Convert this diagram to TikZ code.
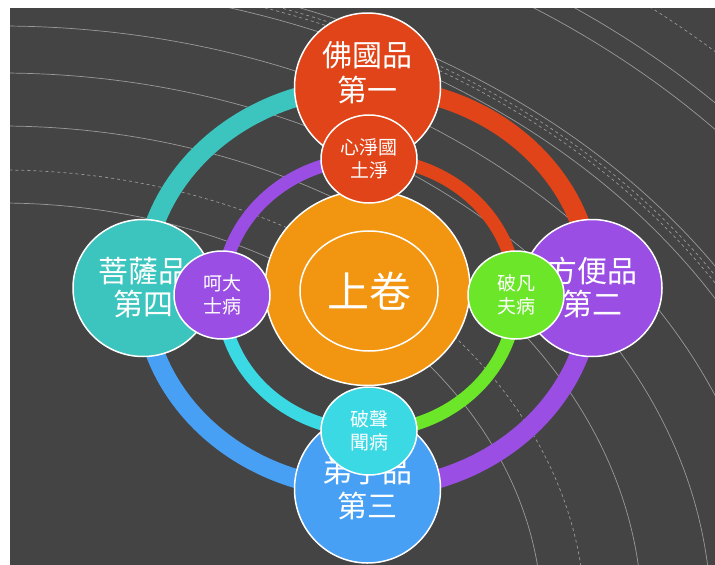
\documentclass[tikz,border=0pt]{standalone}
\usepackage{fontspec}
\newfontfamily\cjk{Noto Sans CJK TC}
\usetikzlibrary{shapes.geometric}
\definecolor{bgc}{HTML}{444444}
\definecolor{linec}{HTML}{999999}
\definecolor{cred}{HTML}{E04418}
\definecolor{corange}{HTML}{F29611}
\definecolor{cteal}{HTML}{3CC5BE}
\definecolor{cpurple}{HTML}{9B4EE3}
\definecolor{cblue}{HTML}{47A0F4}
\definecolor{cgreen}{HTML}{6BE628}
\definecolor{ccyan}{HTML}{3BD9E4}
\begin{document}
\begin{tikzpicture}[x=1pt,y=1pt,
  every node/.style={draw=white,line width=1.5pt,shape=ellipse,inner sep=0pt,text=white,align=center},
  big/.style={minimum width=146pt,minimum height=148pt,font=\cjk\fontsize{30}{35}\selectfont},
  side/.style={minimum width=140pt,minimum height=137pt,font=\cjk\fontsize{30}{33}\selectfont},
  small/.style={minimum width=96pt,minimum height=88pt,font=\cjk\fontsize{19}{23}\selectfont},
  ring/.style={line width=19pt},
  iring/.style={line width=13pt},
  bgline/.style={draw=linec,line width=0.7pt}]
  \useasboundingbox (0,0) rectangle (715,-565);
  \fill[white] (0,0) rectangle (715,-565);
  \fill[bgc] (10,-8) rectangle (715,-565);
  \begin{scope}
    \clip (10,-8) rectangle (715,-565);
    \foreach \r in {417,494,547,594,637,654,737,755}
      \draw[bgline] (0,-620) ellipse [x radius=1.3*\r, y radius=\r];
    \foreach \r in {450,645,649,791}
      \draw[bgline,dash pattern=on 3pt off 3pt] (0,-620) ellipse [x radius=1.3*\r, y radius=\r];
  \end{scope}
  \coordinate (cp1) at (367.5,-87);
  \coordinate (cp2) at (592,-288);
  \coordinate (cp3) at (367.5,-489);
  \coordinate (cp4) at (143,-288);
  \coordinate (cq1) at (369,-159);
  \coordinate (cq2) at (516,-295);
  \coordinate (cq3) at (369,-431);
  \coordinate (cq4) at (222,-295);
  \draw[ring,cred] (cp1) arc[start angle=90, end angle=0, x radius=224.5, y radius=201];
  \draw[ring,cpurple] (cp2) arc[start angle=0, end angle=-90, x radius=224.5, y radius=201];
  \draw[ring,cblue] (cp3) arc[start angle=-90, end angle=-180, x radius=224.5, y radius=201];
  \draw[ring,cteal] (cp4) arc[start angle=180, end angle=90, x radius=224.5, y radius=201];
  \draw[iring,cred] (cq1) arc[start angle=90, end angle=0, x radius=147, y radius=136];
  \draw[iring,cgreen] (cq2) arc[start angle=0, end angle=-90, x radius=147, y radius=136];
  \draw[iring,ccyan] (cq3) arc[start angle=-90, end angle=-180, x radius=147, y radius=136];
  \draw[iring,cpurple] (cq4) arc[start angle=180, end angle=90, x radius=147, y radius=136];
  \node[fill=corange,minimum width=205pt,minimum height=195pt] (juan) at (367.5,-288) {};
  \node[minimum width=138pt,minimum height=120pt,font=\cjk\fontsize{42}{46}\selectfont] (juantext) at (369,-291) {上卷};
  \path (cp1) node[big,fill=cred] (p1) {佛國品\\第一\\[-4pt]}
        (cp2) node[side,fill=cpurple] (p2) {方便品\\第二}
        (cp3) node[big,fill=cblue] (p3) {弟子品\\第三}
        (cp4) node[side,fill=cteal] (p4) {菩薩品\\第四};
  \path (cq1) node[small,fill=cred] (q1) {心淨國\\土淨}
        (cq2) node[small,fill=cgreen] (q2) {破凡\\夫病}
        (cq3) node[small,fill=ccyan] (q3) {破聲\\聞病}
        (cq4) node[small,fill=cpurple] (q4) {呵大\\士病};
\end{tikzpicture}
\end{document}
